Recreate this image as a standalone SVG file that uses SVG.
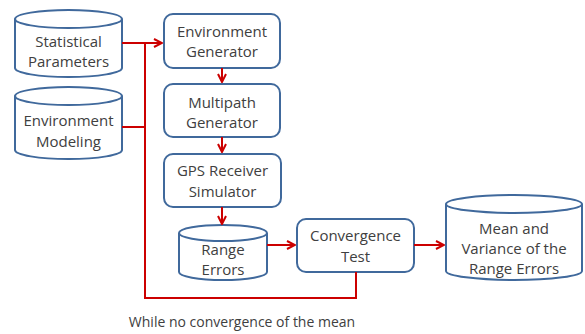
<svg xmlns="http://www.w3.org/2000/svg" width="585" height="334" viewBox="0 0 585 334">
<style>
.n{fill:#fff;stroke:#40699c;stroke-width:2}
.t{font-family:"Open Sans","Liberation Sans",sans-serif;font-size:15px;fill:#404040;text-anchor:middle}
.b{font-size:14px}
.c{fill:none;stroke:#cc0000;stroke-width:2}
</style>
<defs>
<marker id="a" viewBox="0 0 10 10" refX="9" refY="5" markerWidth="5" markerHeight="5" orient="auto" markerUnits="strokeWidth">
<path d="M1,1 L9,5 L1,9" fill="none" stroke="#cc0000" stroke-width="2"/>
</marker>
</defs>
<rect width="585" height="334" fill="#fff"/>
<g id="stat">
<path class="n" d="M15,19 V68 A53.5,9 0 0 0 122,68 V19 A53.5,9 0 0 0 15,19 A53.5,9 0 0 0 122,19"/>
<text class="t" x="68.5" y="47">Statistical</text>
<text class="t" x="68.5" y="67">Parameters</text>
</g>
<g id="envmod">
<path class="n" d="M15,96 V150 A53.5,9 0 0 0 122,150 V96 A53.5,9 0 0 0 15,96 A53.5,9 0 0 0 122,96"/>
<text class="t" x="68.5" y="126">Environment</text>
<text class="t" x="68.5" y="147">Modeling</text>
</g>
<g id="envgen">
<rect class="n" x="164" y="14" width="116" height="54" rx="9"/>
<text class="t" x="222" y="37">Environment</text>
<text class="t" x="222" y="57">Generator</text>
</g>
<g id="multi">
<rect class="n" x="164" y="84" width="116" height="53" rx="9"/>
<text class="t" x="222" y="108">Multipath</text>
<text class="t" x="222" y="128">Generator</text>
</g>
<g id="gps">
<rect class="n" x="164" y="154" width="117" height="53" rx="9"/>
<text class="t" x="222.5" y="176">GPS Receiver</text>
<text class="t" x="222.5" y="197">Simulator</text>
</g>
<g id="range">
<path class="n" d="M179,233 V272 A44,8 0 0 0 267,272 V233 A44,8 0 0 0 179,233 A44,8 0 0 0 267,233"/>
<text class="t" x="223" y="255">Range</text>
<text class="t" x="223" y="275">Errors</text>
</g>
<g id="conv">
<rect class="n" x="297" y="219" width="117" height="53" rx="9"/>
<text class="t" x="355.5" y="241">Convergence</text>
<text class="t" x="355.5" y="262">Test</text>
</g>
<g id="mean">
<path class="n" d="M446,204 V271 A68,9 0 0 0 582,271 V204 A68,9 0 0 0 446,204 A68,9 0 0 0 582,204"/>
<text class="t" x="514" y="234">Mean and</text>
<text class="t" x="514" y="254">Variance of the</text>
<text class="t" x="514" y="274">Range Errors</text>
</g>
<g id="connectors">
<path class="c" d="M122,43 H162" marker-end="url(#a)"/>
<path class="c" d="M122,127 H145"/>
<path class="c" d="M145,43 V298 H356 V272"/>
<path class="c" d="M222,68 V82" marker-end="url(#a)"/>
<path class="c" d="M222,137 V152" marker-end="url(#a)"/>
<path class="c" d="M222,207 V224" marker-end="url(#a)"/>
<path class="c" d="M267,245 H295" marker-end="url(#a)"/>
<path class="c" d="M414,245 H444" marker-end="url(#a)"/>
</g>
<text class="t b" x="242" y="327">While no convergence of the mean</text>
</svg>
